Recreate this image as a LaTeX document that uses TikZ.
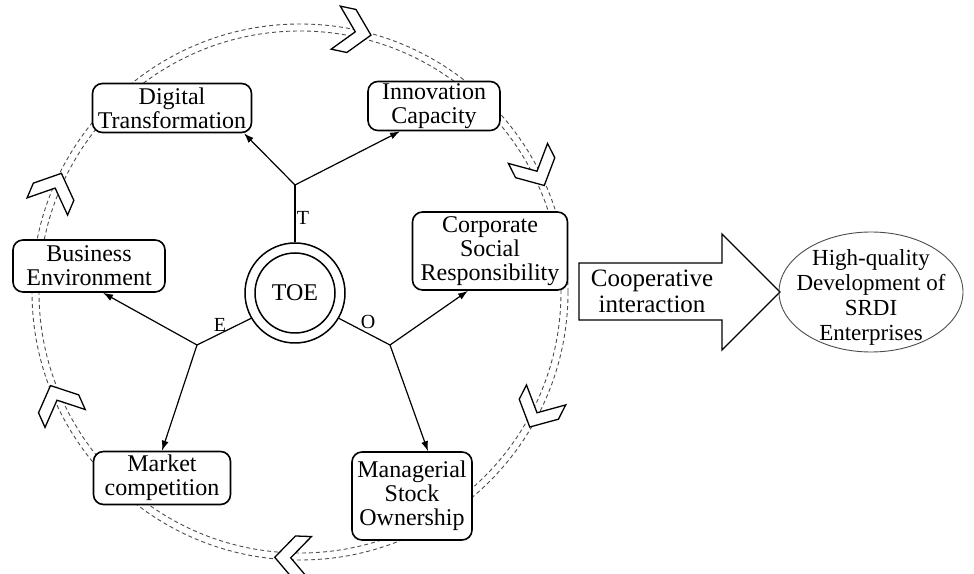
\documentclass[tikz,border=0pt]{standalone}
\usepackage{fontspec}
\setmainfont{Liberation Serif}
\usetikzlibrary{positioning, shapes.geometric, arrows.meta}

\begin{document}
\begin{tikzpicture}[
                x=1pt, y=1pt,
                >={Latex[length=10pt, width=7pt]}, % 箭头样式
                box/.style={
                    draw, % 绘制边框
                    line width=1.6pt,
                    rounded corners=10pt, % 圆角
                    fill=white,
                    align=center,
                    inner sep=2pt,
                    font=\fontsize{24}{24}\selectfont
                },
                link/.style={line width=1.2pt}, % 连线
                ringline/.style={draw=black!70, line width=0.9pt, dash pattern=on 4pt off 3pt}, % 虚线圆环
                chev/.style={draw, line width=1.3pt, fill=white, line join=miter}, % 空心箭头
                lab/.style={font=\fontsize{20}{20}\selectfont, inner sep=1pt}
            ]
            \useasboundingbox (0,0) rectangle (974,573);

            % 外圈虚线圆环
            \draw[ringline] (300,281) circle (261pt);
            \draw[ringline] (300,281) circle (268pt);

            % 圆环上的空心箭头 (顺时针)
            \begin{scope}[shift={(300,281)}]
                \foreach \a in {78, 27, -27, -92, -156, 157} {
                    \draw[chev, shift={(\a:266)}, rotate={\a-90}]
                        (16,0) -- (-4,22) -- (-20,22) -- (0,0) -- (-20,-22) -- (-4,-22) -- cycle;
                }
            \end{scope}

            % 中心 TOE
            \node[circle, draw, line width=1.5pt, minimum size=100pt] (toe) at (295,280) {};
            \node[circle, draw, line width=1.5pt, minimum size=80pt, font=\fontsize{24}{24}\selectfont] (toein) at (toe) {TOE};

            % 六个因素
            \node[box, minimum width=159pt, minimum height=49pt] (dt) at (172,465) {Digital\\Transformation};
            \node[box, minimum width=132pt, minimum height=47pt] (ic) at (434,467) {Innovation\\Capacity};
            \node[box, minimum width=152pt, minimum height=52pt] (be) at (89,307) {Business\\Environment};
            \node[box, minimum width=155pt, minimum height=78pt] (cs) at (490,322) {Corporate\\Social\\Responsibility};
            \node[box, minimum width=137pt, minimum height=53pt] (mc) at (162,95) {Market\\competition};
            \node[box, minimum width=120pt, minimum height=88pt] (ms) at (412,77) {Managerial\\Stock\\Ownership};

            % 分叉点
            \coordinate (tj) at (295,388);
            \coordinate (ej) at (197,228);
            \coordinate (oj) at (390,228);

            \draw[link] (toe.north) -- (tj);
            \draw[link] (toe.210) -- (ej);
            \draw[link] (toe.-30) -- (oj);

            \draw[link, ->] (tj) -- ([xshift=72pt]dt.south);
            \draw[link, ->] (tj) -- ([xshift=-34pt]ic.south);
            \draw[link, ->] (ej) -- ([xshift=14pt]be.south);
            \draw[link, ->] (ej) -- (mc.north);
            \draw[link, ->] (oj) -- ([xshift=-22pt]cs.south);
            \draw[link, ->] (oj) -- ([xshift=16pt]ms.north);

            \node[lab] (tl) at (303,355) {T};
            \node[lab] (el) at (220,248) {E};
            \node[lab] (ol) at (368,251) {O};

            % 大箭头
            \draw[line width=1.3pt, fill=white] (579,253) -- (722,253) -- (722,223) -- (780,281)
                -- (722,339) -- (722,310) -- (579,310) -- cycle;
            \node[align=center, font=\fontsize{25}{26}\selectfont] (coop) at (652,282) {Cooperative\\interaction};

            % 结果
            \node[ellipse, draw=black!70, line width=0.9pt, minimum width=184pt, minimum height=120pt] (hq) at (871,281) {};
            \node[align=center, inner sep=0pt, font=\fontsize{23}{25}\selectfont] (hqt) at (871,276) {High-quality\\Development of\\SRDI\\Enterprises};
\end{tikzpicture}
\end{document}
